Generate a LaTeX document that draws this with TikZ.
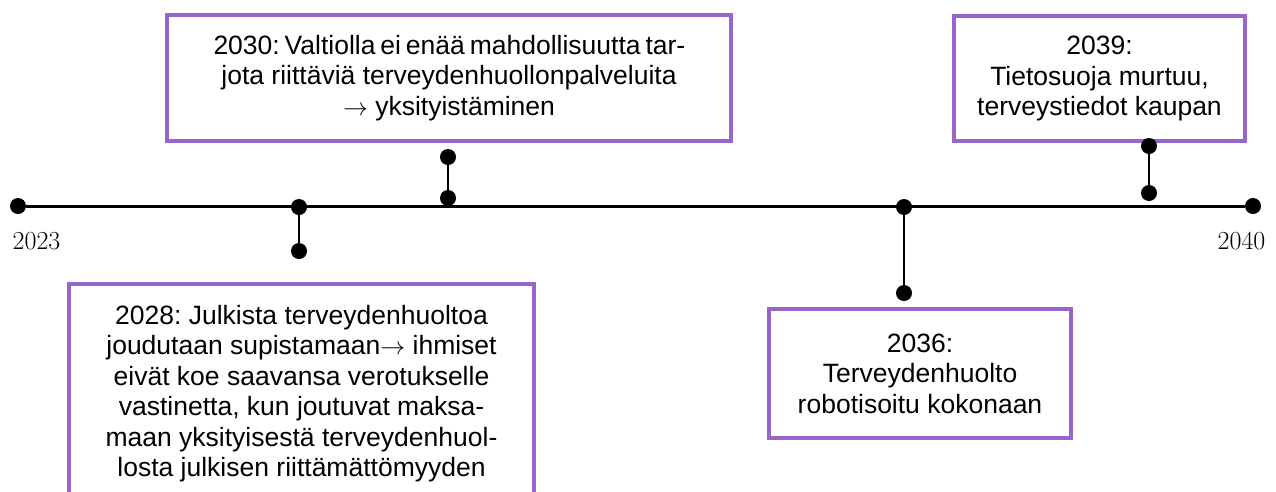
\documentclass[tikz,border=0pt]{standalone}
\usepackage{fontspec}
\newfontfamily\boxfont{Liberation Sans}
\definecolor{eventpurple}{RGB}{150,102,204}
\tikzset{
  dot/.style={circle, fill=black, inner sep=0pt, minimum size=16pt},
  axis/.style={line width=3pt},
  stem/.style={line width=2pt},
  eventbox/.style={draw=eventpurple, line width=4pt, fill=white, align=center,
    inner sep=0pt, font=\boxfont\fontsize{26.5}{30.5}\selectfont\frenchspacing},
  yearlabel/.style={font=\rmfamily\fontsize{26}{30}\selectfont, inner sep=0pt}
}
\begin{document}
\begin{tikzpicture}[x=1pt, y=-1pt]
\clip (0,0) rectangle (1276,491);

% event boxes
\node[eventbox, anchor=north, minimum width=465pt, inner ysep=21pt] (b28) at (301.5,282)
  {2028: Julkista terveydenhuoltoa\\
   joudutaan supistamaan$\rightarrow$ ihmiset\\
   eivät koe saavansa verotukselle\\
   vastinetta, kun joutuvat maksa-\\
   maan yksityisestä terveydenhuol-\\
   losta julkisen riittämättömyyden};
\node[eventbox, minimum width=564pt, minimum height=126pt] (b30) at (449,78)
  {\hbox to 471pt{2030: Valtiolla ei enää mahdollisuutta tar-}\\
   jota riittäviä terveydenhuollonpalveluita\\
   $\rightarrow$ yksityistäminen};
\node[eventbox, minimum width=302pt, minimum height=129pt] (b36) at (920,373.5)
  {2036:\\ Terveydenhuolto\\ robotisoitu kokonaan};
\node[eventbox, minimum width=291pt, minimum height=125pt] (b39) at (1099.5,78.5)
  {2039:\\ Tietosuoja murtuu,\\ terveystiedot kaupan};

% timeline
\node[dot] (start) at (18,206) {};
\node[dot] (end) at (1253,206) {};
\draw[axis] (start) -- (end);
\node[yearlabel] (y2023) at (36.5,241) {2023};
\node[yearlabel] (y2040) at (1241.5,241) {2040};

% markers
\node[dot] (e28a) at (299,207) {};
\node[dot] (e28b) at (299,251) {};
\draw[stem] (e28a) -- (e28b);

\node[dot] (e30a) at (448,198) {};
\node[dot] (e30b) at (448,157) {};
\draw[stem] (e30a) -- (e30b);

\node[dot] (e36a) at (904,207) {};
\node[dot] (e36b) at (904,293) {};
\draw[stem] (e36a) -- (e36b);

\node[dot] (e39a) at (1149,193) {};
\node[dot] (e39b) at (1149,146) {};
\draw[stem] (e39a) -- (e39b);
\end{tikzpicture}
\end{document}
